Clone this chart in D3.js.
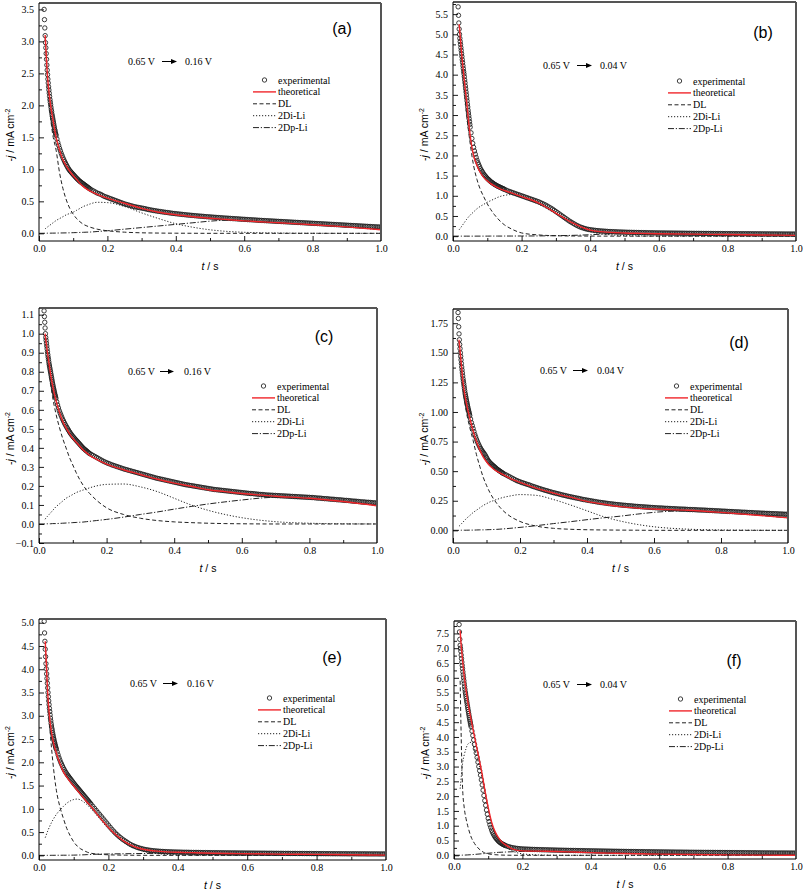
<!DOCTYPE html>
<html>
<head>
<meta charset="utf-8">
<script src="https://cdn.jsdelivr.net/npm/d3@7"></script>
<style>
  body { margin: 0; background: #fff; }
  svg { display: block; }
</style>
</head>
<body>
<svg id="chart" width="803" height="892"></svg>
<script>
// ---- sampling grids ----
// experimental: 1 ms up to 50 ms, 2.5 ms up to 150 ms, then 5 ms
var tExp = d3.range(15, 51).map(function (i) { return i / 1000; })
  .concat([0.0525, 0.055, 0.0575])
  .concat(d3.range(24, 61).map(function (i) { return i / 400; }))
  .concat(d3.range(31, 201).map(function (i) { return i / 200; }));
// fitted curves
var tMod = [0, 0.018, 0.02, 0.025, 0.03, 0.035, 0.04, 0.05, 0.06, 0.07, 0.08, 0.09, 0.1, 0.11, 0.12, 0.13,
            0.14, 0.15, 0.17, 0.2, 0.25, 0.3, 0.35, 0.4, 0.45, 0.5, 0.55, 0.6, 0.7, 0.8, 0.9, 1.0];

// ---- (a) 0.65 V -> 0.16 V ----
var expA = [3.50, 3.34, 3.21, 3.09, 2.98, 2.90,
  2.81, 2.72, 2.63, 2.55, 2.48, 2.41, 2.35, 2.29, 2.24, 2.19,
  2.14, 2.09, 2.05, 2.01, 1.97, 1.93, 1.90, 1.86, 1.83, 1.80,
  1.77, 1.74, 1.71, 1.68, 1.65, 1.62, 1.60, 1.57, 1.55, 1.53,
  1.475, 1.42, 1.375,
  1.33, 1.29, 1.25, 1.215, 1.18, 1.15, 1.12, 1.095, 1.07, 1.045,
  1.02, 1.0, 0.98, 0.965, 0.95, 0.935, 0.92, 0.905, 0.89, 0.875,
  0.86, 0.848, 0.835, 0.822, 0.81, 0.8, 0.79, 0.78, 0.77, 0.76,
  0.75, 0.74, 0.73, 0.72, 0.71, 0.7, 0.69,
  0.675,
  0.66, 0.645, 0.63, 0.62, 0.61, 0.595, 0.58, 0.57, 0.56, 0.55,
  0.54, 0.53, 0.52, 0.51, 0.50, 0.49, 0.48, 0.47, 0.46, 0.452,
  0.445, 0.437, 0.43, 0.422, 0.415, 0.41, 0.405, 0.4, 0.395, 0.39,
  0.385, 0.378, 0.372, 0.367, 0.362, 0.357, 0.353, 0.348, 0.344, 0.34,
  0.336, 0.332, 0.328, 0.325, 0.321, 0.317, 0.313, 0.31, 0.307, 0.304,
  0.301, 0.298, 0.295, 0.292, 0.289, 0.286, 0.284, 0.281, 0.279, 0.276,
  0.274, 0.271, 0.269, 0.267, 0.265, 0.262, 0.26, 0.258, 0.256, 0.254,
  0.252, 0.25, 0.248, 0.246, 0.244, 0.242, 0.24, 0.238, 0.237, 0.235,
  0.233, 0.231, 0.229, 0.228, 0.226, 0.224, 0.222, 0.22, 0.219, 0.217,
  0.215, 0.213, 0.212, 0.21, 0.209, 0.207, 0.205, 0.203, 0.202, 0.2,
  0.199, 0.197, 0.196, 0.194, 0.193, 0.191, 0.19, 0.188, 0.187, 0.185,
  0.184, 0.182, 0.181, 0.179, 0.178, 0.176, 0.175, 0.173, 0.172, 0.17,
  0.169, 0.167, 0.166, 0.164, 0.163, 0.161, 0.16, 0.158, 0.157, 0.155,
  0.154, 0.152, 0.151, 0.149, 0.148, 0.146, 0.145, 0.143, 0.142, 0.14,
  0.139, 0.137, 0.136, 0.134, 0.133, 0.131, 0.13, 0.128, 0.127, 0.125,
  0.124, 0.122, 0.121, 0.119, 0.118, 0.116, 0.115, 0.113, 0.112, 0.11,
  0.109, 0.107, 0.106, 0.104, 0.103, 0.101, 0.1, 0.099, 0.098];
var theoA = [null, 3.1, 2.9, 2.45, 2.17, 1.96, 1.8, 1.5, 1.3, 1.15, 1.05, 0.97, 0.9, 0.84, 0.78, 0.73, 0.69, 0.66, 0.61, 0.55, 0.47, 0.39, 0.33, 0.29, 0.26, 0.235, 0.215, 0.195, 0.165, 0.135, 0.1, 0.055];
var dlA = [null, 3.05, 2.85, 2.38, 2.02, 1.75, 1.55, 1.3, 0.95, 0.7, 0.52, 0.39, 0.3, 0.23, 0.18, 0.14, 0.115, 0.095, 0.065, 0.04, 0.018, 0.008, 0.004, 0.002, 0.001, 0, 0, 0, 0, 0, 0, 0];
var diA = [null, 0.07, 0.08, 0.1, 0.12, 0.14, 0.16, 0.2, 0.23, 0.26, 0.29, 0.31, 0.33, 0.36, 0.39, 0.42, 0.44, 0.46, 0.485, 0.48, 0.42, 0.32, 0.23, 0.15, 0.095, 0.055, 0.03, 0.016, 0.005, 0.001, 0, 0];
var dpA = [0, 0.001, 0.001, 0.002, 0.002, 0.003, 0.003, 0.004, 0.005, 0.006, 0.007, 0.008, 0.01, 0.012, 0.014, 0.016, 0.018, 0.02, 0.028, 0.04, 0.065, 0.09, 0.115, 0.14, 0.165, 0.19, 0.205, 0.195, 0.165, 0.135, 0.1, 0.055];

// ---- (b) 0.65 V -> 0.04 V ----
var expB = [5.68, 5.47, 5.28, 5.13, 5.0, 4.9,
  4.82, 4.75, 4.67, 4.6, 4.52, 4.45, 4.37, 4.3, 4.22, 4.15,
  4.08, 4.02, 3.95, 3.87, 3.8, 3.72, 3.65, 3.57, 3.5, 3.42,
  3.35, 3.27, 3.2, 3.12, 3.05, 2.98, 2.91, 2.84, 2.77, 2.7,
  2.56, 2.42, 2.3,
  2.2, 2.11, 2.03, 1.95, 1.88, 1.82, 1.77, 1.72, 1.67, 1.635,
  1.6, 1.565, 1.53, 1.505, 1.48, 1.455, 1.43, 1.41, 1.39, 1.37,
  1.35, 1.335, 1.32, 1.305, 1.29, 1.277, 1.265, 1.252, 1.24, 1.23,
  1.22, 1.21, 1.2, 1.19, 1.18, 1.17, 1.16,
  1.14,
  1.12, 1.105, 1.09, 1.075, 1.06, 1.045, 1.03, 1.015, 1.0, 0.985,
  0.97, 0.955, 0.94, 0.925, 0.91, 0.895, 0.88, 0.865, 0.85, 0.83,
  0.81, 0.79, 0.77, 0.745, 0.72, 0.695, 0.67, 0.64, 0.61, 0.58,
  0.55, 0.52, 0.49, 0.46, 0.43, 0.4, 0.37, 0.345, 0.32, 0.295,
  0.27, 0.25, 0.23, 0.215, 0.2, 0.187, 0.175, 0.167, 0.16, 0.154,
  0.148, 0.143, 0.138, 0.134, 0.13, 0.127, 0.124, 0.121, 0.118, 0.115,
  0.113, 0.111, 0.109, 0.107, 0.105, 0.103, 0.102, 0.1, 0.099, 0.097,
  0.096, 0.095, 0.094, 0.093, 0.092, 0.091, 0.09, 0.089, 0.088, 0.087,
  0.086, 0.085, 0.084, 0.083, 0.083, 0.082, 0.081, 0.08, 0.08, 0.079,
  0.079, 0.078, 0.078, 0.077, 0.077, 0.076, 0.076, 0.075, 0.075, 0.074,
  0.074, 0.073, 0.073, 0.072, 0.072, 0.071, 0.071, 0.07, 0.07, 0.069,
  0.069, 0.069, 0.068, 0.068, 0.068, 0.067, 0.067, 0.067, 0.066, 0.066,
  0.065, 0.065, 0.065, 0.064, 0.064, 0.064, 0.063, 0.063, 0.063, 0.062,
  0.062, 0.062, 0.061, 0.061, 0.061, 0.06, 0.06, 0.06, 0.06, 0.059,
  0.059, 0.059, 0.059, 0.058, 0.058, 0.058, 0.057, 0.057, 0.057, 0.056,
  0.056, 0.056, 0.056, 0.055, 0.055, 0.055, 0.055, 0.054, 0.054, 0.054,
  0.054, 0.053, 0.053, 0.053, 0.053, 0.052, 0.052, 0.052, 0.052];
var theoB = [null, 5.25, 5.05, 4.55, 4.1, 3.7, 3.3, 2.5, 2.0, 1.75, 1.57, 1.45, 1.37, 1.3, 1.25, 1.2, 1.16, 1.13, 1.07, 0.98, 0.82, 0.57, 0.32, 0.15, 0.1, 0.08, 0.07, 0.06, 0.05, 0.04, 0.03, 0.02];
var dlB = [null, 5.1, 4.9, 4.4, 3.9, 3.45, 3.0, 2.3, 1.75, 1.4, 1.15, 0.97, 0.8, 0.66, 0.54, 0.44, 0.35, 0.28, 0.18, 0.08, 0.03, 0.01, 0.004, 0.002, 0.001, 0, 0, 0, 0, 0, 0, 0];
var diB = [null, 0.16, 0.18, 0.24, 0.3, 0.36, 0.42, 0.52, 0.6, 0.68, 0.74, 0.79, 0.84, 0.88, 0.92, 0.96, 0.99, 1.01, 1.03, 0.96, 0.79, 0.55, 0.3, 0.11, 0.04, 0.015, 0.005, 0.002, 0, 0, 0, 0];
var dpB = [0, 0, 0, 0, 0, 0, 0, 0, 0, 0.001, 0.001, 0.001, 0.001, 0.002, 0.002, 0.002, 0.002, 0.003, 0.003, 0.004, 0.006, 0.012, 0.02, 0.035, 0.055, 0.063, 0.065, 0.06, 0.05, 0.04, 0.03, 0.02];

// ---- (c) 0.65 V -> 0.16 V ----
var expC = [1.12, 1.09, 1.06, 1.03, 1.0, 0.98,
  0.965, 0.95, 0.935, 0.92, 0.905, 0.89, 0.877, 0.865, 0.852, 0.84,
  0.83, 0.82, 0.81, 0.8, 0.79, 0.78, 0.77, 0.76, 0.75, 0.74,
  0.731, 0.722, 0.713, 0.705, 0.697, 0.689, 0.681, 0.674, 0.667, 0.66,
  0.642, 0.625, 0.61,
  0.595, 0.583, 0.572, 0.561, 0.55, 0.541, 0.532, 0.523, 0.515, 0.507,
  0.5, 0.492, 0.485, 0.478, 0.472, 0.466, 0.46, 0.455, 0.45, 0.445,
  0.44, 0.435, 0.43, 0.425, 0.42, 0.415, 0.41, 0.405, 0.4, 0.396,
  0.392, 0.388, 0.385, 0.381, 0.377, 0.373, 0.37,
  0.365,
  0.36, 0.355, 0.35, 0.345, 0.34, 0.335, 0.33, 0.326, 0.322, 0.318,
  0.315, 0.311, 0.308, 0.305, 0.302, 0.299, 0.296, 0.293, 0.29, 0.287,
  0.285, 0.282, 0.28, 0.277, 0.275, 0.272, 0.27, 0.267, 0.265, 0.262,
  0.26, 0.257, 0.255, 0.252, 0.25, 0.247, 0.245, 0.242, 0.24, 0.238,
  0.236, 0.234, 0.232, 0.23, 0.228, 0.226, 0.224, 0.222, 0.22, 0.218,
  0.216, 0.214, 0.212, 0.21, 0.208, 0.206, 0.205, 0.203, 0.202, 0.2,
  0.199, 0.197, 0.196, 0.194, 0.193, 0.191, 0.19, 0.188, 0.187, 0.185,
  0.184, 0.182, 0.181, 0.18, 0.179, 0.178, 0.177, 0.176, 0.175, 0.174,
  0.173, 0.172, 0.171, 0.17, 0.169, 0.168, 0.167, 0.166, 0.165, 0.164,
  0.163, 0.162, 0.161, 0.16, 0.16, 0.159, 0.158, 0.157, 0.156, 0.155,
  0.155, 0.154, 0.153, 0.152, 0.152, 0.151, 0.151, 0.15, 0.15, 0.149,
  0.149, 0.148, 0.148, 0.147, 0.147, 0.146, 0.146, 0.145, 0.145, 0.144,
  0.144, 0.143, 0.143, 0.142, 0.142, 0.141, 0.141, 0.14, 0.14, 0.139,
  0.139, 0.138, 0.137, 0.136, 0.136, 0.135, 0.134, 0.133, 0.133, 0.132,
  0.131, 0.13, 0.13, 0.129, 0.128, 0.127, 0.127, 0.126, 0.125, 0.124,
  0.124, 0.123, 0.122, 0.121, 0.12, 0.12, 0.119, 0.118, 0.117, 0.116,
  0.116, 0.115, 0.114, 0.114, 0.113, 0.112, 0.111, 0.111, 0.11];
var theoC = [null, 1.0, 0.97, 0.9, 0.84, 0.78, 0.73, 0.65, 0.59, 0.54, 0.505, 0.475, 0.45, 0.43, 0.41, 0.39, 0.375, 0.36, 0.34, 0.315, 0.285, 0.26, 0.235, 0.215, 0.198, 0.18, 0.17, 0.16, 0.146, 0.135, 0.118, 0.096];
var dlC = [null, 0.98, 0.95, 0.87, 0.8, 0.73, 0.67, 0.58, 0.51, 0.45, 0.4, 0.35, 0.31, 0.27, 0.235, 0.205, 0.18, 0.16, 0.125, 0.085, 0.05, 0.03, 0.018, 0.011, 0.007, 0.004, 0.002, 0.001, 0, 0, 0, 0];
var diC = [null, 0.025, 0.03, 0.04, 0.05, 0.06, 0.07, 0.09, 0.105, 0.12, 0.135, 0.145, 0.155, 0.165, 0.172, 0.178, 0.184, 0.19, 0.2, 0.208, 0.21, 0.195, 0.17, 0.135, 0.1, 0.072, 0.05, 0.033, 0.012, 0.004, 0.001, 0];
var dpC = [0, 0, 0.001, 0.001, 0.001, 0.001, 0.002, 0.002, 0.003, 0.004, 0.005, 0.006, 0.007, 0.008, 0.009, 0.01, 0.012, 0.014, 0.018, 0.024, 0.036, 0.05, 0.063, 0.078, 0.092, 0.105, 0.116, 0.126, 0.14, 0.134, 0.118, 0.096];

// ---- (d) 0.65 V -> 0.04 V ----
var expD = [1.84, 1.79, 1.72, 1.66, 1.61, 1.57,
  1.535, 1.5, 1.47, 1.44, 1.41, 1.38, 1.355, 1.33, 1.305, 1.28,
  1.26, 1.24, 1.22, 1.2, 1.18, 1.16, 1.145, 1.13, 1.115, 1.1,
  1.086, 1.072, 1.058, 1.044, 1.03, 1.018, 1.006, 0.994, 0.982, 0.97,
  0.94, 0.91, 0.885,
  0.86, 0.835, 0.81, 0.79, 0.77, 0.752, 0.735, 0.72, 0.705, 0.692,
  0.68, 0.67, 0.66, 0.65, 0.64, 0.628, 0.615, 0.602, 0.59, 0.581,
  0.572, 0.565, 0.558, 0.552, 0.546, 0.54, 0.533, 0.527, 0.521, 0.515,
  0.51, 0.505, 0.5, 0.495, 0.49, 0.485, 0.481,
  0.473,
  0.466, 0.458, 0.451, 0.443, 0.436, 0.428, 0.421, 0.415, 0.41, 0.404,
  0.4, 0.395, 0.39, 0.386, 0.381, 0.375, 0.37, 0.366, 0.361, 0.356,
  0.352, 0.347, 0.343, 0.338, 0.335, 0.33, 0.326, 0.322, 0.318, 0.315,
  0.311, 0.308, 0.304, 0.3, 0.297, 0.294, 0.29, 0.287, 0.284, 0.281,
  0.278, 0.275, 0.272, 0.27, 0.266, 0.263, 0.26, 0.258, 0.255, 0.253,
  0.25, 0.248, 0.245, 0.243, 0.24, 0.238, 0.236, 0.234, 0.232, 0.23,
  0.228, 0.226, 0.224, 0.223, 0.221, 0.219, 0.218, 0.216, 0.215, 0.213,
  0.212, 0.211, 0.209, 0.208, 0.207, 0.206, 0.204, 0.203, 0.202, 0.201,
  0.2, 0.199, 0.198, 0.197, 0.196, 0.195, 0.194, 0.193, 0.192, 0.191,
  0.19, 0.189, 0.189, 0.188, 0.187, 0.186, 0.186, 0.185, 0.184, 0.183,
  0.183, 0.182, 0.181, 0.18, 0.18, 0.179, 0.179, 0.178, 0.177, 0.176,
  0.176, 0.175, 0.175, 0.174, 0.173, 0.172, 0.172, 0.171, 0.171, 0.17,
  0.169, 0.168, 0.168, 0.167, 0.166, 0.165, 0.165, 0.164, 0.163, 0.162,
  0.162, 0.161, 0.16, 0.159, 0.159, 0.158, 0.157, 0.156, 0.156, 0.155,
  0.154, 0.153, 0.153, 0.152, 0.151, 0.15, 0.15, 0.149, 0.148, 0.147,
  0.147, 0.146, 0.145, 0.145, 0.144, 0.143, 0.143, 0.142, 0.141, 0.141,
  0.14, 0.14, 0.139, 0.138, 0.138, 0.137, 0.136, 0.136, 0.135];
var theoD = [null, 1.61, 1.55, 1.4, 1.25, 1.15, 1.07, 0.95, 0.84, 0.75, 0.68, 0.62, 0.58, 0.545, 0.52, 0.5, 0.485, 0.47, 0.44, 0.405, 0.355, 0.315, 0.28, 0.245, 0.22, 0.2, 0.188, 0.18, 0.17, 0.152, 0.13, 0.105];
var dlD = [null, 1.58, 1.5, 1.34, 1.2, 1.09, 1.0, 0.87, 0.76, 0.64, 0.54, 0.45, 0.38, 0.32, 0.27, 0.23, 0.195, 0.165, 0.12, 0.075, 0.035, 0.017, 0.009, 0.005, 0.003, 0.002, 0.001, 0, 0, 0, 0, 0];
var diD = [null, 0.035, 0.04, 0.055, 0.07, 0.085, 0.1, 0.125, 0.15, 0.17, 0.19, 0.21, 0.225, 0.24, 0.25, 0.26, 0.27, 0.278, 0.29, 0.302, 0.295, 0.26, 0.215, 0.165, 0.115, 0.078, 0.05, 0.03, 0.01, 0.003, 0.001, 0];
var dpD = [0, 0, 0, 0.001, 0.001, 0.001, 0.001, 0.002, 0.002, 0.003, 0.004, 0.004, 0.005, 0.006, 0.007, 0.008, 0.01, 0.012, 0.017, 0.025, 0.04, 0.057, 0.073, 0.09, 0.106, 0.12, 0.137, 0.152, 0.165, 0.152, 0.13, 0.105];

// ---- (e) 0.65 V -> 0.16 V ----
var expE = [5.03, 4.78, 4.6, 4.43, 4.27, 4.12,
  4.01, 3.9, 3.8, 3.7, 3.6, 3.5, 3.41, 3.32, 3.24, 3.16,
  3.09, 3.02, 2.95, 2.89, 2.83, 2.78, 2.73, 2.69, 2.64, 2.6,
  2.56, 2.52, 2.49, 2.45, 2.42, 2.39, 2.36, 2.33, 2.305, 2.28,
  2.22, 2.16, 2.1,
  2.05, 2.0, 1.96, 1.92, 1.88, 1.845, 1.81, 1.78, 1.75, 1.725,
  1.7, 1.675, 1.65, 1.625, 1.6, 1.575, 1.55, 1.527, 1.505, 1.482,
  1.46, 1.437, 1.415, 1.392, 1.37, 1.347, 1.325, 1.302, 1.28, 1.257,
  1.235, 1.212, 1.19, 1.167, 1.145, 1.122, 1.1,
  1.055,
  1.01, 0.965, 0.92, 0.875, 0.83, 0.785, 0.74, 0.695, 0.65, 0.605,
  0.56, 0.52, 0.48, 0.445, 0.41, 0.38, 0.35, 0.325, 0.3, 0.275,
  0.25, 0.23, 0.21, 0.195, 0.18, 0.167, 0.155, 0.145, 0.135, 0.127,
  0.12, 0.114, 0.108, 0.103, 0.099, 0.095, 0.092, 0.089, 0.086, 0.084,
  0.082, 0.08, 0.078, 0.076, 0.075, 0.073, 0.072, 0.071, 0.07, 0.069,
  0.068, 0.067, 0.066, 0.066, 0.065, 0.064, 0.063, 0.063, 0.062, 0.062,
  0.061, 0.06, 0.06, 0.059, 0.059, 0.058, 0.058, 0.057, 0.057, 0.056,
  0.056, 0.056, 0.055, 0.055, 0.054, 0.054, 0.053, 0.053, 0.053, 0.052,
  0.052, 0.052, 0.051, 0.051, 0.05, 0.05, 0.05, 0.049, 0.049, 0.049,
  0.048, 0.048, 0.048, 0.047, 0.047, 0.047, 0.046, 0.046, 0.046, 0.045,
  0.045, 0.045, 0.045, 0.044, 0.044, 0.044, 0.043, 0.043, 0.043, 0.042,
  0.042, 0.042, 0.042, 0.041, 0.041, 0.041, 0.041, 0.04, 0.04, 0.04,
  0.04, 0.039, 0.039, 0.039, 0.039, 0.038, 0.038, 0.038, 0.038, 0.037,
  0.037, 0.037, 0.037, 0.036, 0.036, 0.036, 0.036, 0.035, 0.035, 0.035,
  0.035, 0.035, 0.034, 0.034, 0.034, 0.034, 0.033, 0.033, 0.033, 0.033,
  0.033, 0.033, 0.032, 0.032, 0.032, 0.032, 0.032, 0.031, 0.031, 0.031,
  0.031, 0.031, 0.031, 0.031, 0.03, 0.03, 0.03, 0.03, 0.03];
var theoE = [null, 4.6, 4.3, 3.5, 3.0, 2.7, 2.48, 2.2, 1.98, 1.8, 1.68, 1.58, 1.49, 1.4, 1.31, 1.22, 1.13, 1.05, 0.86, 0.6, 0.28, 0.13, 0.085, 0.065, 0.055, 0.045, 0.04, 0.035, 0.025, 0.02, 0.012, 0.005];
var dlE = [null, 4.5, 4.2, 3.4, 2.85, 2.4, 2.0, 1.4, 1.05, 0.8, 0.58, 0.42, 0.29, 0.2, 0.14, 0.1, 0.065, 0.045, 0.025, 0.012, 0.004, 0.001, 0, 0, 0, 0, 0, 0, 0, 0, 0, 0];
var diE = [null, 0.38, 0.42, 0.52, 0.61, 0.69, 0.76, 0.88, 0.97, 1.05, 1.12, 1.17, 1.2, 1.21, 1.19, 1.14, 1.08, 1.0, 0.83, 0.57, 0.25, 0.09, 0.03, 0.01, 0.003, 0.001, 0, 0, 0, 0, 0, 0];
var dpE = [0, 0, 0, 0, 0, 0.001, 0.001, 0.002, 0.002, 0.003, 0.003, 0.004, 0.005, 0.007, 0.009, 0.012, 0.016, 0.02, 0.025, 0.03, 0.035, 0.04, 0.045, 0.045, 0.043, 0.04, 0.037, 0.033, 0.025, 0.018, 0.011, 0.005];

// ---- (f) 0.65 V -> 0.04 V ----
var expF = [7.8, 7.55, 7.3, 7.1, 7.0, 6.9,
  6.77, 6.65, 6.53, 6.42, 6.31, 6.2, 6.1, 6.0, 5.9, 5.8,
  5.7, 5.61, 5.52, 5.45, 5.37, 5.3, 5.22, 5.15, 5.07, 5.0,
  4.93, 4.86, 4.79, 4.72, 4.65, 4.59, 4.53, 4.47, 4.41, 4.35,
  4.2, 4.05, 3.9,
  3.75, 3.6, 3.46, 3.31, 3.15, 3.0, 2.86, 2.71, 2.55, 2.38,
  2.2, 2.02, 1.85, 1.69, 1.53, 1.39, 1.25, 1.14, 1.03, 0.94,
  0.85, 0.78, 0.72, 0.67, 0.62, 0.58, 0.545, 0.512, 0.48, 0.455,
  0.43, 0.41, 0.39, 0.375, 0.36, 0.345, 0.33,
  0.31,
  0.29, 0.275, 0.26, 0.25, 0.24, 0.232, 0.225, 0.22, 0.215, 0.212,
  0.21, 0.207, 0.205, 0.202, 0.2, 0.198, 0.196, 0.194, 0.192, 0.19,
  0.188, 0.187, 0.185, 0.184, 0.182, 0.18, 0.179, 0.177, 0.176, 0.174,
  0.173, 0.172, 0.17, 0.169, 0.168, 0.166, 0.165, 0.164, 0.163, 0.162,
  0.16, 0.159, 0.158, 0.157, 0.156, 0.154, 0.153, 0.152, 0.151, 0.15,
  0.149, 0.148, 0.147, 0.146, 0.145, 0.144, 0.143, 0.142, 0.141, 0.14,
  0.139, 0.138, 0.137, 0.136, 0.135, 0.134, 0.133, 0.132, 0.131, 0.13,
  0.129, 0.128, 0.128, 0.127, 0.126, 0.125, 0.124, 0.123, 0.123, 0.122,
  0.121, 0.12, 0.12, 0.119, 0.118, 0.117, 0.117, 0.116, 0.115, 0.114,
  0.114, 0.113, 0.112, 0.112, 0.111, 0.11, 0.11, 0.109, 0.108, 0.108,
  0.107, 0.107, 0.106, 0.105, 0.105, 0.104, 0.103, 0.103, 0.102, 0.102,
  0.101, 0.101, 0.1, 0.1, 0.099, 0.099, 0.098, 0.098, 0.097, 0.097,
  0.096, 0.096, 0.095, 0.095, 0.094, 0.094, 0.093, 0.093, 0.092, 0.092,
  0.091, 0.091, 0.09, 0.09, 0.089, 0.089, 0.088, 0.088, 0.087, 0.087,
  0.086, 0.086, 0.085, 0.085, 0.085, 0.084, 0.083, 0.083, 0.082, 0.082,
  0.081, 0.081, 0.081, 0.08, 0.08, 0.079, 0.079, 0.078, 0.078, 0.078,
  0.078, 0.077, 0.077, 0.077, 0.076, 0.076, 0.076, 0.075, 0.075];
var theoF = [null, 7.6, 7.25, 6.6, 6.05, 5.6, 5.2, 4.58, 4.0, 3.45, 2.88, 2.22, 1.62, 1.12, 0.8, 0.6, 0.45, 0.36, 0.22, 0.15, 0.14, 0.13, 0.11, 0.09, 0.075, 0.06, 0.05, 0.04, 0.025, 0.015, 0.007, 0];
var dlF = [null, 5.9, 4.6, 2.3, 1.6, 1.25, 1.0, 0.62, 0.4, 0.25, 0.15, 0.08, 0.05, 0.03, 0.02, 0.013, 0.008, 0.005, 0.002, 0.001, 0, 0, 0, 0, 0, 0, 0, 0, 0, 0, 0, 0];
var diF = [null, 2.25, 2.5, 3.1, 3.4, 3.6, 3.75, 3.82, 3.6, 3.2, 2.72, 2.14, 1.57, 1.09, 0.78, 0.56, 0.4, 0.3, 0.15, 0.05, 0.01, 0.002, 0, 0, 0, 0, 0, 0, 0, 0, 0, 0];
var dpF = [0, 0.002, 0.003, 0.005, 0.007, 0.01, 0.013, 0.02, 0.03, 0.04, 0.05, 0.06, 0.07, 0.08, 0.09, 0.1, 0.105, 0.11, 0.12, 0.13, 0.135, 0.13, 0.11, 0.09, 0.075, 0.06, 0.05, 0.04, 0.025, 0.015, 0.007, 0];

// ---- labels / ticks ----
var legendNames = ["experimental", "theoretical", "DL", "2Di-Li", "2Dp-Li"];
var panelLetters = ["(a)", "(b)", "(c)", "(d)", "(e)", "(f)"];
var stepFrom = "0.65 V";
var stepTo = ["0.16 V", "0.04 V", "0.16 V", "0.04 V", "0.16 V", "0.04 V"];
var xTicks = [0, 0.2, 0.4, 0.6, 0.8, 1.0];
var xMinor = [0.1, 0.3, 0.5, 0.7, 0.9];
var yTicksA = [0, 0.5, 1.0, 1.5, 2.0, 2.5, 3.0, 3.5];
var yTicksB = [0, 0.5, 1.0, 1.5, 2.0, 2.5, 3.0, 3.5, 4.0, 4.5, 5.0, 5.5];
var yTicksC = [-0.1, 0, 0.1, 0.2, 0.3, 0.4, 0.5, 0.6, 0.7, 0.8, 0.9, 1.0, 1.1];
var yTicksD = [0, 0.25, 0.5, 0.75, 1.0, 1.25, 1.5, 1.75];
var yTicksE = [0, 0.5, 1.0, 1.5, 2.0, 2.5, 3.0, 3.5, 4.0, 4.5, 5.0];
var yTicksF = [0, 0.5, 1.0, 1.5, 2.0, 2.5, 3.0, 3.5, 4.0, 4.5, 5.0, 5.5, 6.0, 6.5, 7.0, 7.5];

var series = [
  {exp: expA, theo: theoA, dl: dlA, di: diA, dp: dpA, ticks: yTicksA, fmt: ".1f"},
  {exp: expB, theo: theoB, dl: dlB, di: diB, dp: dpB, ticks: yTicksB, fmt: ".1f"},
  {exp: expC, theo: theoC, dl: dlC, di: diC, dp: dpC, ticks: yTicksC, fmt: ".1f"},
  {exp: expD, theo: theoD, dl: dlD, di: diD, dp: dpD, ticks: yTicksD, fmt: ".2f"},
  {exp: expE, theo: theoE, dl: dlE, di: diE, dp: dpE, ticks: yTicksE, fmt: ".1f"},
  {exp: expF, theo: theoF, dl: dlF, di: diF, dp: dpF, ticks: yTicksF, fmt: ".1f"}
];

// ---- layout (pixels) ----
var layout = [
  {L: 39,  T: 3,   R: 381, B: 241, yDom: [-0.12, 3.6],   let: [342, 34],  note: [128, 65],  arr: [162, 177], to: 185, leg: [253, 80]},
  {L: 453, T: 2,   R: 796, B: 241, yDom: [-0.12, 5.8],   let: [763, 38],  note: [543, 69],  arr: [577, 592], to: 600, leg: [668, 81]},
  {L: 39,  T: 308, R: 377, B: 543, yDom: [-0.1, 1.135],  let: [324, 342], note: [128, 375], arr: [160, 174], to: 184, leg: [252, 386]},
  {L: 453, T: 309, R: 788, B: 543, yDom: [-0.107, 1.87], let: [739, 348], note: [540, 374], arr: [573, 588], to: 597, leg: [665, 386]},
  {L: 39,  T: 619, R: 386, B: 860, yDom: [-0.1, 5.08],   let: [332, 663], note: [130, 687], arr: [163, 178], to: 187, leg: [258, 698]},
  {L: 454, T: 621, R: 796, B: 859, yDom: [-0.125, 7.92], let: [734, 666], note: [543, 688], arr: [577, 592], to: 600, leg: [669, 699]}
];

var RED = "#f0262b";
var serif = "'Liberation Serif', 'Times New Roman', serif";
var sans = "'Liberation Sans', Arial, sans-serif";
var dashes = {dl: "4,2.5", di: "1.2,1.8", dp: "6,1.8,1.2,1.8"};

var svg = d3.select("#chart");

series.forEach(function (s, k) {
  var p = layout[k];
  var g = svg.append("g");
  var x = d3.scaleLinear().domain([0, 1]).range([p.L, p.R]);
  var y = d3.scaleLinear().domain(p.yDom).range([p.B, p.T]);

  g.append("clipPath").attr("id", "clip" + k)
    .append("rect").attr("x", p.L).attr("y", p.T).attr("width", p.R - p.L).attr("height", p.B - p.T);

  var plot = g.append("g").attr("clip-path", "url(#clip" + k + ")");

  // experimental circles
  plot.selectAll("circle")
    .data(d3.zip(tExp, s.exp))
    .join("circle")
    .attr("cx", function (d) { return x(d[0]); })
    .attr("cy", function (d) { return y(d[1]); })
    .attr("r", 2.2)
    .style("fill", "none")
    .style("stroke", "#1c1c1c")
    .style("stroke-width", 0.85);

  var line = d3.line()
    .defined(function (d) { return d[1] != null; })
    .x(function (d) { return x(d[0]); })
    .y(function (d) { return y(d[1]); })
    .curve(d3.curveMonotoneX);

  ["dl", "di", "dp"].forEach(function (key) {
    plot.append("path")
      .attr("d", line(d3.zip(tMod, s[key])))
      .style("fill", "none")
      .style("stroke", "#222")
      .style("stroke-width", 1)
      .style("stroke-dasharray", dashes[key]);
  });
  plot.append("path")
    .attr("d", line(d3.zip(tMod, s.theo)))
    .style("fill", "none")
    .style("stroke", RED)
    .style("stroke-width", 1.4);

  // axes, ticks pointing in
  var xa = g.append("g").attr("transform", "translate(0," + p.B + ")")
    .call(d3.axisBottom(x).tickValues(xTicks).tickSizeInner(-5).tickSizeOuter(0).tickPadding(4).tickFormat(d3.format(".1f")));
  g.append("g").attr("transform", "translate(0," + p.B + ")")
    .call(d3.axisBottom(x).tickValues(xMinor).tickSizeInner(-3).tickSizeOuter(0).tickFormat(""))
    .select(".domain").remove();

  var step = s.ticks[1] - s.ticks[0];
  var minorY = s.ticks.map(function (v) { return v + step / 2; })
    .filter(function (v) { return v < p.yDom[1]; });
  var ya = g.append("g").attr("transform", "translate(" + p.L + ",0)")
    .call(d3.axisLeft(y).tickValues(s.ticks).tickSizeInner(-5).tickSizeOuter(0).tickPadding(5).tickFormat(d3.format(s.fmt)));
  g.append("g").attr("transform", "translate(" + p.L + ",0)")
    .call(d3.axisLeft(y).tickValues(minorY).tickSizeInner(-3).tickSizeOuter(0).tickFormat(""))
    .select(".domain").remove();

  [xa, ya].forEach(function (a) {
    a.select(".domain").remove();
    a.selectAll("text").style("font-family", serif).style("font-size", "10px").style("fill", "#000");
  });
  g.selectAll(".tick line").style("stroke", "#000").style("stroke-width", 0.9);

  // frame
  g.append("line").attr("x1", p.L).attr("x2", p.R).attr("y1", p.T).attr("y2", p.T).style("stroke", "#555").style("stroke-width", 2);
  g.append("line").attr("x1", p.R).attr("x2", p.R).attr("y1", p.T).attr("y2", p.B).style("stroke", "#555").style("stroke-width", 2);
  g.append("line").attr("x1", p.L).attr("x2", p.R).attr("y1", p.B).attr("y2", p.B).style("stroke", "#000").style("stroke-width", 1);
  g.append("line").attr("x1", p.L).attr("x2", p.L).attr("y1", p.T).attr("y2", p.B).style("stroke", "#000").style("stroke-width", 1);

  // axis titles
  var xt = g.append("text").attr("x", (p.L + p.R) / 2).attr("y", p.B + 29)
    .attr("text-anchor", "middle").style("font-family", sans).style("font-size", "10.5px");
  xt.append("tspan").style("font-style", "italic").text("t");
  xt.append("tspan").text(" / s");

  var cy = (p.T + p.B) / 2 + 13;
  var yt = g.append("text").attr("transform", "translate(" + (p.L - 25) + "," + cy + ") rotate(-90)")
    .attr("text-anchor", "middle").style("font-family", sans).style("font-size", "10.5px");
  yt.append("tspan").text("-");
  yt.append("tspan").style("font-style", "italic").text("j");
  yt.append("tspan").text(" / mA cm");
  yt.append("tspan").attr("dy", -4).style("font-size", "7px").text("-2");

  // panel letter
  g.append("text").attr("x", p.let[0]).attr("y", p.let[1]).attr("text-anchor", "middle")
    .style("font-family", sans).style("font-size", "16px").text(panelLetters[k]);

  // potential step note
  g.append("text").attr("x", p.note[0]).attr("y", p.note[1])
    .style("font-family", serif).style("font-size", "10px").text(stepFrom);
  g.append("text").attr("x", p.to).attr("y", p.note[1])
    .style("font-family", serif).style("font-size", "10px").text(stepTo[k]);
  var ay = p.note[1] - 3.5;
  g.append("line").attr("x1", p.arr[0]).attr("x2", p.arr[1] - 4).attr("y1", ay).attr("y2", ay)
    .style("stroke", "#000").style("stroke-width", 1);
  g.append("path")
    .attr("d", "M" + p.arr[1] + "," + ay + "L" + (p.arr[1] - 6) + "," + (ay - 2.5) + "L" + (p.arr[1] - 6) + "," + (ay + 2.5) + "Z")
    .style("fill", "#000");

  // legend
  var lx = p.leg[0], ly = p.leg[1], rowH = 11.9;
  var keys = ["exp", "theo", "dl", "di", "dp"];
  legendNames.forEach(function (name, i) {
    var yy = ly + i * rowH;
    if (i === 0) {
      g.append("circle").attr("cx", lx + 11.5).attr("cy", yy).attr("r", 2.2)
        .style("fill", "none").style("stroke", "#1c1c1c").style("stroke-width", 0.85);
    } else {
      g.append("line").attr("x1", lx).attr("x2", lx + 23).attr("y1", yy).attr("y2", yy)
        .style("stroke", i === 1 ? RED : "#222")
        .style("stroke-width", i === 1 ? 1.4 : 1)
        .style("stroke-dasharray", i === 1 ? null : dashes[keys[i]]);
    }
    g.append("text").attr("x", lx + 25).attr("y", yy + 3.5)
      .style("font-family", serif).style("font-size", "10px").text(name);
  });
});
</script>
</body>
</html>
